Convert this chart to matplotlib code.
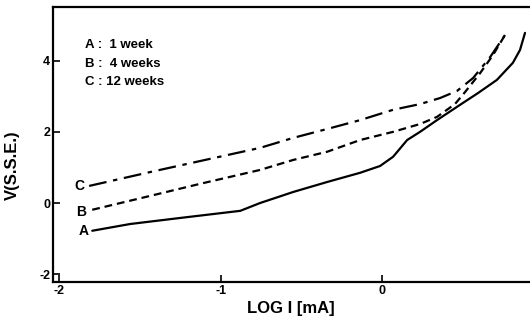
import matplotlib
matplotlib.use("Agg")
import matplotlib.pyplot as plt

plt.rcParams['font.family'] = ['Liberation Sans', 'DejaVu Sans']
plt.rcParams['font.weight'] = 'bold'
plt.rcParams['axes.unicode_minus'] = False

# curve A : 1 week
logi_a = [-1.797, -1.562, -1.252, -0.880, -0.757, -0.552, -0.342, -0.137, -0.014,
          0.067, 0.154, 0.234, 0.339, 0.482, 0.593, 0.710, 0.809, 0.853, 0.884]
v_a = [-0.78, -0.59, -0.42, -0.22, 0.00, 0.31, 0.59, 0.85, 1.04,
       1.30, 1.77, 2.00, 2.33, 2.76, 3.09, 3.46, 3.94, 4.30, 4.78]

# curve B : 4 weeks
logi_b = [-1.797, -1.438, -1.128, -0.757, -0.552, -0.342, -0.137, 0.067,
          0.234, 0.339, 0.450, 0.513, 0.606, 0.686, 0.760]
v_b = [-0.19, 0.20, 0.54, 0.93, 1.21, 1.44, 1.77, 2.00,
       2.22, 2.42, 2.78, 3.12, 3.65, 4.16, 4.72]

# curve C : 12 weeks
logi_c = [-1.816, -1.438, -1.128, -0.757, -0.552, -0.342, -0.137, 0.067,
          0.234, 0.358, 0.463, 0.562, 0.668, 0.760]
v_c = [0.48, 0.87, 1.18, 1.55, 1.83, 2.08, 2.33, 2.62,
       2.78, 2.95, 3.15, 3.51, 4.10, 4.72]

legend_lines = ['A :  1 week', 'B :  4 weeks', 'C : 12 weeks']
xticks = [-2, -1, 0]
yticks = [-2, 0, 2, 4]

fig = plt.figure(figsize=(5.3, 3.24), dpi=100)
ax = fig.add_axes([0.1, 0.1296, 0.9, 0.849])

ax.plot(logi_a, v_a, color='black', lw=1.6, solid_capstyle='round')
ax.plot(logi_b, v_b, color='black', lw=1.6, dashes=(3.5, 2.2))
ax.plot(logi_c, v_c, color='black', lw=1.6, dashes=(8, 3, 2, 3))

ax.text(-1.877, 0.48, 'C', fontsize=10, fontweight='bold', ha='center', va='center')
ax.text(-1.865, -0.25, 'B', fontsize=10, fontweight='bold', ha='center', va='center')
ax.text(-1.853, -0.78, 'A', fontsize=10, fontweight='bold', ha='center', va='center')

for i, s in enumerate(legend_lines):
    ax.text(-1.84, 4.44 - 0.52 * i, s, fontsize=9.5, fontweight='bold',
            ha='left', va='center')

ax.set_xlim(-2.04, 0.915)
ax.set_ylim(-2.22, 5.51)
ax.set_xticks(xticks)
ax.set_yticks(yticks)
ax.tick_params(direction='in', length=5, width=1.2, labelsize=9, pad=2)

for side in ['left', 'top', 'bottom']:
    ax.spines[side].set_linewidth(1.6)
ax.spines['right'].set_visible(False)

ax.set_xlabel('LOG I [mA]', fontsize=12, fontweight='bold')
ax.set_ylabel('V(S.S.E.)', fontsize=12, fontweight='bold')
ax.xaxis.set_label_coords(0.499, -0.07)
ax.yaxis.set_label_coords(-0.07, 0.425)

fig.savefig('out.png', dpi=100)
